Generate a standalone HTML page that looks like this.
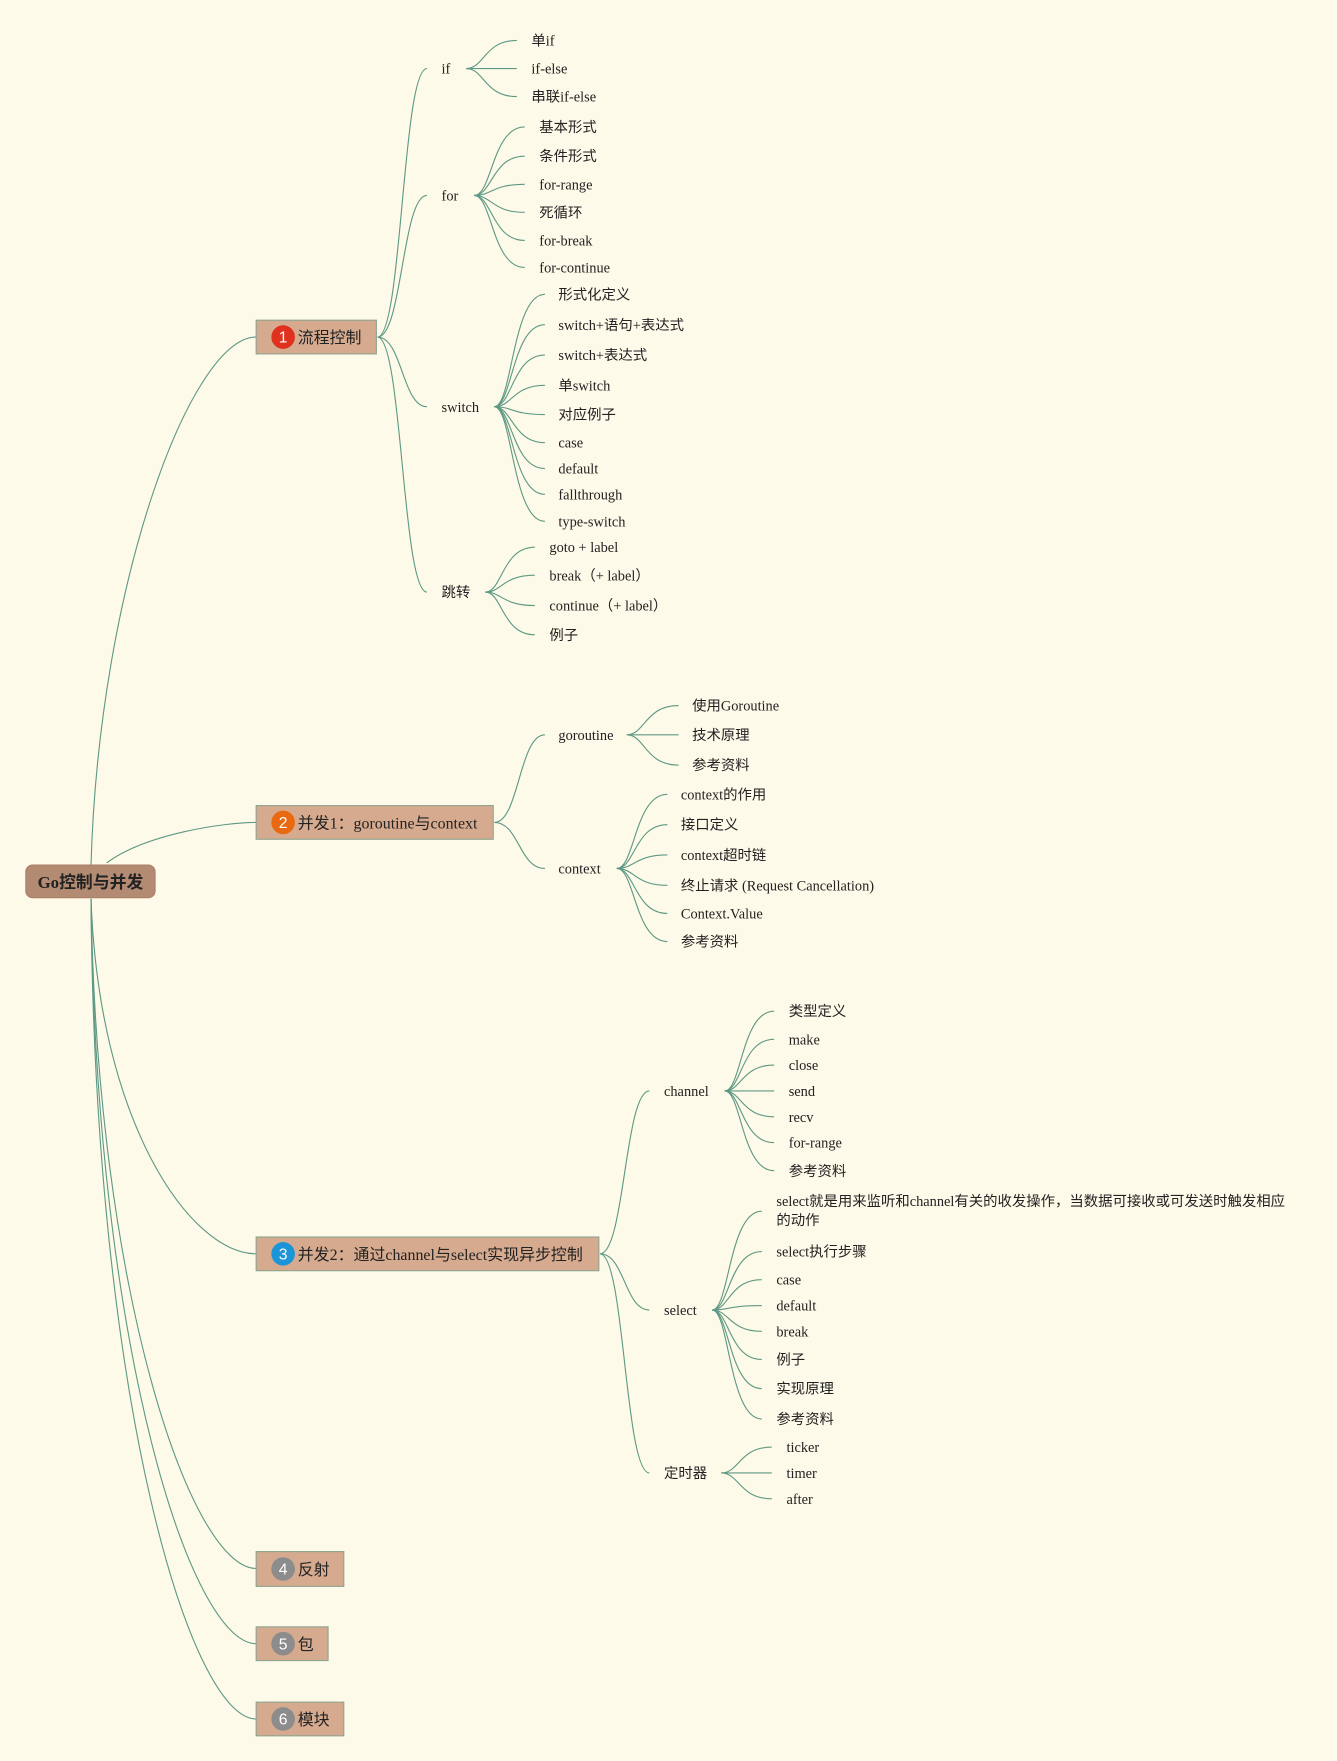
<!DOCTYPE html>
<html><head><meta charset="utf-8"><style>
html,body{margin:0;padding:0;background:#fefae9;}
svg{display:block}
text{font-family:"Liberation Serif","Noto Sans CJK SC",serif;font-size:12.8px;fill:#222;}
.b{font-size:14.2px;}
.r{font-size:15px;font-weight:bold;}
.n{font-family:"Liberation Sans",sans-serif;font-size:14px;fill:#fff;}
path{fill:none;stroke:#5e9985;stroke-width:1;}
</style></head><body>
<svg width="1337" height="1761" viewBox="0 0 1190 1567.4" xmlns="http://www.w3.org/2000/svg">
<rect x="0" y="0" width="1190" height="1568" fill="#fefae9" style="stroke:none"/>
<path d="M81 770 C88 520 170 300 228 300"/>
<path d="M95 768 C130 742 200 732 228 732"/>
<path d="M81 800 C88 1000 170 1116 228 1116"/>
<path d="M81 800 C86 1150 170 1396 228 1396"/>
<path d="M81 800 C85 1200 170 1463 228 1463"/>
<path d="M81 800 C84 1250 170 1530 228 1530"/>
<path d="M336 300 C358 300 358 61 380 61"/>
<path d="M336 300 C358 300 358 174 380 174"/>
<path d="M336 300 C358 300 358 362 380 362"/>
<path d="M336 300 C358 300 358 527 380 527"/>
<path d="M415 61 C431 61 431 36 460 36"/><path d="M415 61 L460 61"/><path d="M415 61 C431 61 431 86 460 86"/>
<path d="M422 174 C438 174 438 113 467 113"/><path d="M422 174 C438 174 438 139 467 139"/><path d="M422 174 C438 174 438 164 467 164"/>
<path d="M422 174 C438 174 438 189 467 189"/><path d="M422 174 C438 174 438 214 467 214"/><path d="M422 174 C438 174 438 238 467 238"/>
<path d="M440 362 C456 362 456 262 485 262"/><path d="M440 362 C456 362 456 289 485 289"/><path d="M440 362 C456 362 456 316 485 316"/>
<path d="M440 362 C456 362 456 343 485 343"/><path d="M440 362 C456 362 456 369 485 369"/><path d="M440 362 C456 362 456 394 485 394"/>
<path d="M440 362 C456 362 456 417 485 417"/><path d="M440 362 C456 362 456 440 485 440"/><path d="M440 362 C456 362 456 464 485 464"/>
<path d="M432 527 C447 527 447 487 476 487"/><path d="M432 527 C447 527 447 512 476 512"/><path d="M432 527 C447 527 447 539 476 539"/><path d="M432 527 C447 527 447 565 476 565"/>
<path d="M440 732 C462 732 462 654 485 654"/><path d="M440 732 C462 732 462 773 485 773"/>
<path d="M558 654 C574 654 574 628 604 628"/><path d="M558 654 L604 654"/><path d="M558 654 C574 654 574 681 604 681"/>
<path d="M549 773 C565 773 565 707 594 707"/><path d="M549 773 C565 773 565 734 594 734"/><path d="M549 773 C565 773 565 761 594 761"/>
<path d="M549 773 C565 773 565 788 594 788"/><path d="M549 773 C565 773 565 813 594 813"/><path d="M549 773 C565 773 565 838 594 838"/>
<path d="M534 1116 C556 1116 556 971 578 971"/><path d="M534 1116 C556 1116 556 1166 578 1166"/><path d="M534 1116 C556 1116 556 1311 578 1311"/>
<path d="M645 971 C660 971 660 900 689 900"/><path d="M645 971 C660 971 660 925 689 925"/><path d="M645 971 C660 971 660 948 689 948"/>
<path d="M645 971 L689 971"/><path d="M645 971 C660 971 660 994 689 994"/><path d="M645 971 C660 971 660 1017 689 1017"/><path d="M645 971 C660 971 660 1042 689 1042"/>
<path d="M634 1166 C649 1166 649 1078 678 1078"/><path d="M634 1166 C649 1166 649 1114 678 1114"/><path d="M634 1166 C649 1166 649 1139 678 1139"/>
<path d="M634 1166 C649 1166 649 1162 678 1162"/><path d="M634 1166 C649 1166 649 1185 678 1185"/><path d="M634 1166 C649 1166 649 1210 678 1210"/>
<path d="M634 1166 C649 1166 649 1236 678 1236"/><path d="M634 1166 C649 1166 649 1263 678 1263"/>
<path d="M642 1311 C658 1311 658 1288 687 1288"/><path d="M642 1311 L687 1311"/><path d="M642 1311 C658 1311 658 1334 687 1334"/>

<rect x="23" y="770" width="115" height="29" rx="6" fill="#b38a72" style="stroke:#a88068"/>
<text x="80.5" y="790.5" class="r" text-anchor="middle">Go控制与并发</text>

<rect x="228" y="285" width="107" height="30" fill="#d5aa8f" style="stroke:#8fa590"/>
<circle cx="252" cy="300" r="10.5" fill="#e0301e"/><text x="252" y="305" class="n" text-anchor="middle">1</text>
<text x="265" y="305.5" class="b">流程控制</text>

<rect x="228" y="717" width="211" height="30" fill="#d5aa8f" style="stroke:#8fa590"/>
<circle cx="252" cy="732" r="10.5" fill="#e8690f"/><text x="252" y="737" class="n" text-anchor="middle">2</text>
<text x="265" y="737.5" class="b">并发1：goroutine与context</text>

<rect x="228" y="1101" width="305" height="30" fill="#d5aa8f" style="stroke:#8fa590"/>
<circle cx="252" cy="1116" r="10.5" fill="#1b95d8"/><text x="252" y="1121" class="n" text-anchor="middle">3</text>
<text x="265" y="1121.5" class="b">并发2：通过channel与select实现异步控制</text>

<rect x="228" y="1381" width="78" height="31" fill="#d5aa8f" style="stroke:#8fa590"/>
<circle cx="252" cy="1396.5" r="10.5" fill="#8c8c8c"/><text x="252" y="1401.5" class="n" text-anchor="middle">4</text>
<text x="265" y="1402" class="b">反射</text>

<rect x="228" y="1448" width="64" height="30" fill="#d5aa8f" style="stroke:#8fa590"/>
<circle cx="252" cy="1463" r="10.5" fill="#8c8c8c"/><text x="252" y="1468" class="n" text-anchor="middle">5</text>
<text x="265" y="1468.5" class="b">包</text>

<rect x="228" y="1515" width="78" height="30" fill="#d5aa8f" style="stroke:#8fa590"/>
<circle cx="252" cy="1530" r="10.5" fill="#8c8c8c"/><text x="252" y="1535" class="n" text-anchor="middle">6</text>
<text x="265" y="1535.5" class="b">模块</text>

<text x="393" y="65.5">if</text>
<text x="393" y="178.5">for</text>
<text x="393" y="366.5">switch</text>
<text x="393" y="531.5">跳转</text>
<text x="497" y="658.5">goroutine</text>
<text x="497" y="777.5">context</text>
<text x="591" y="975.5">channel</text>
<text x="591" y="1170.5">select</text>
<text x="591" y="1315.5">定时器</text>

<text x="473" y="40.5">单if</text>
<text x="473" y="65.5">if-else</text>
<text x="473" y="90.5">串联if-else</text>

<text x="480" y="117.5">基本形式</text>
<text x="480" y="143.5">条件形式</text>
<text x="480" y="168.5">for-range</text>
<text x="480" y="193.5">死循环</text>
<text x="480" y="218.5">for-break</text>
<text x="480" y="242.5">for-continue</text>

<text x="497" y="266.5">形式化定义</text>
<text x="497" y="293.5">switch+语句+表达式</text>
<text x="497" y="320.5">switch+表达式</text>
<text x="497" y="347.5">单switch</text>
<text x="497" y="373.5">对应例子</text>
<text x="497" y="398.5">case</text>
<text x="497" y="421.5">default</text>
<text x="497" y="444.5">fallthrough</text>
<text x="497" y="468.5">type-switch</text>

<text x="489" y="491.5">goto + label</text>
<text x="489" y="516.5">break（+ label）</text>
<text x="489" y="543.5">continue（+ label）</text>
<text x="489" y="569.5">例子</text>

<text x="616" y="632.5">使用Goroutine</text>
<text x="616" y="658.5">技术原理</text>
<text x="616" y="685.5">参考资料</text>

<text x="606" y="711.5">context的作用</text>
<text x="606" y="738.5">接口定义</text>
<text x="606" y="765.5">context超时链</text>
<text x="606" y="792.5">终止请求 (Request Cancellation)</text>
<text x="606" y="817.5">Context.Value</text>
<text x="606" y="842.5">参考资料</text>

<text x="702" y="904.5">类型定义</text>
<text x="702" y="929.5">make</text>
<text x="702" y="952.5">close</text>
<text x="702" y="975.5">send</text>
<text x="702" y="998.5">recv</text>
<text x="702" y="1021.5">for-range</text>
<text x="702" y="1046.5">参考资料</text>

<text x="691" y="1073.5">select就是用来监听和channel有关的收发操作，当数据可接收或可发送时触发相应</text>
<text x="691" y="1090.5">的动作</text>
<text x="691" y="1118.5">select执行步骤</text>
<text x="691" y="1143.5">case</text>
<text x="691" y="1166.5">default</text>
<text x="691" y="1189.5">break</text>
<text x="691" y="1214.5">例子</text>
<text x="691" y="1240.5">实现原理</text>
<text x="691" y="1267.5">参考资料</text>

<text x="700" y="1292.5">ticker</text>
<text x="700" y="1315.5">timer</text>
<text x="700" y="1338.5">after</text>
</svg>
</body></html>
